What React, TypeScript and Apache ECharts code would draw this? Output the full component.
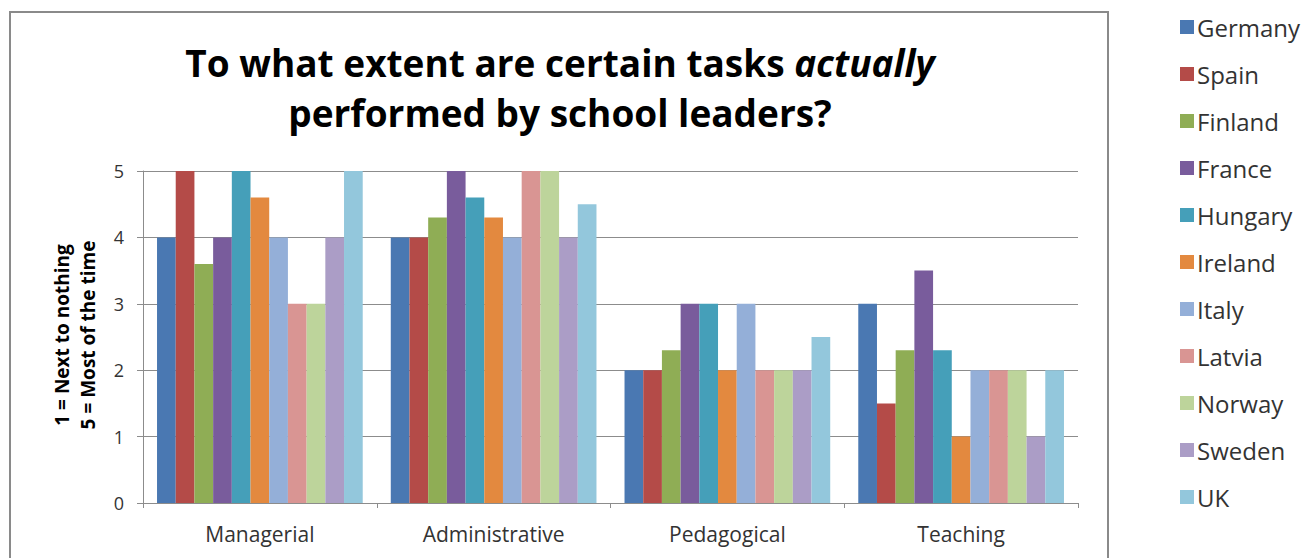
import React, { useEffect, useRef } from "react";
import * as echarts from "echarts";

const categories = ["Managerial", "Administrative", "Pedagogical", "Teaching"];
const countries = ["Germany", "Spain", "Finland", "France", "Hungary", "Ireland", "Italy", "Latvia", "Norway", "Sweden", "UK"];
const germany = [4, 4, 2, 3];
const spain = [5, 4, 2, 1.5];
const finland = [3.6, 4.3, 2.3, 2.3];
const france = [4, 5, 3, 3.5];
const hungary = [5, 4.6, 3, 2.3];
const ireland = [4.6, 4.3, 2, 1];
const italy = [4, 4, 3, 2];
const latvia = [3, 5, 2, 2];
const norway = [3, 5, 2, 2];
const sweden = [4, 4, 2, 1];
const uk = [5, 4.5, 2.5, 2];
const seriesValues = [germany, spain, finland, france, hungary, ireland, italy, latvia, norway, sweden, uk];
const colors = ["#4a78b2", "#b44b48", "#8fad55", "#795c9c", "#459fb9", "#e3893f", "#94afd8", "#d99593", "#bdd49b", "#ab9dc6", "#93c7dc"];
const yTicks = [0, 1, 2, 3, 4, 5];

const FONT = "'Open Sans', sans-serif";

export default function App() {
  const ref = useRef<HTMLDivElement>(null);
  useEffect(() => {
    if (!ref.current) return;
    const chart = echarts.init(ref.current, undefined, { renderer: "svg" });
    chart.setOption({
      animation: false,
      backgroundColor: "#ffffff",
      textStyle: { fontFamily: FONT },
      grid: { left: 143, right: 229, top: 171, bottom: 55, containLabel: false },
      legend: {
        orient: "vertical",
        left: 1175,
        top: 10,
        itemWidth: 14,
        itemHeight: 14,
        itemGap: 23,
        icon: "rect",
        data: countries,
        textStyle: { fontSize: 24, color: "#333", fontFamily: FONT, lineHeight: 24, padding: [0, 0, 0, -2] },
      },
      xAxis: {
        type: "category",
        data: categories,
        axisLine: { lineStyle: { color: "#8c8c8c", width: 1 } },
        axisTick: { show: true, length: 5, lineStyle: { color: "#8c8c8c" } },
        axisLabel: { fontSize: 21, color: "#333", margin: 20, fontFamily: FONT },
      },
      yAxis: {
        type: "value",
        min: yTicks[0],
        max: yTicks[yTicks.length - 1],
        interval: 1,
        axisLine: { show: true, lineStyle: { color: "#8c8c8c", width: 1 } },
        axisTick: { show: true, length: 6, lineStyle: { color: "#8c8c8c" } },
        axisLabel: { fontSize: 18, color: "#333", margin: 19, fontFamily: FONT },
        splitLine: { lineStyle: { color: "#8c8c8c", width: 1 } },
      },
      series: countries.map((name, i) => ({
        name,
        type: "bar",
        data: seriesValues[i],
        itemStyle: { color: colors[i] },
        barGap: "0%",
        barCategoryGap: "12%",
      })),
      graphic: [
        {
          type: "rect",
          shape: { x: 10, y: 12, width: 1098, height: 600 },
          style: { fill: "none", stroke: "#8a8a8a", lineWidth: 2 },
          silent: true,
          z: -1,
        },
        {
          type: "text",
          x: 560,
          y: 37,
          style: {
            text: "{a|To what extent are certain tasks }{i|actually}\n{a|performed by school leaders?}",
            textAlign: "center",
            textVerticalAlign: "top",
            rich: {
              a: { fontSize: 37, fontWeight: "bold", fontFamily: FONT, fill: "#000", lineHeight: 50 },
              i: { fontSize: 37, fontWeight: "bold", fontStyle: "italic", fontFamily: FONT, fill: "#000", lineHeight: 50 },
            },
          },
        },
        {
          type: "text",
          x: 75,
          y: 335,
          rotation: Math.PI / 2,
          style: {
            text: "1 = Next to nothing\n5 = Most of the time",
            textAlign: "center",
            textVerticalAlign: "middle",
            fontSize: 19,
            fontWeight: "bold",
            fontFamily: FONT,
            fill: "#000",
            lineHeight: 26,
          },
        },
      ],
    });
    return () => chart.dispose();
  }, []);
  return <div ref={ref} style={{ position: "fixed", left: 0, top: 0, width: 1307, height: 558 }} />;
}
